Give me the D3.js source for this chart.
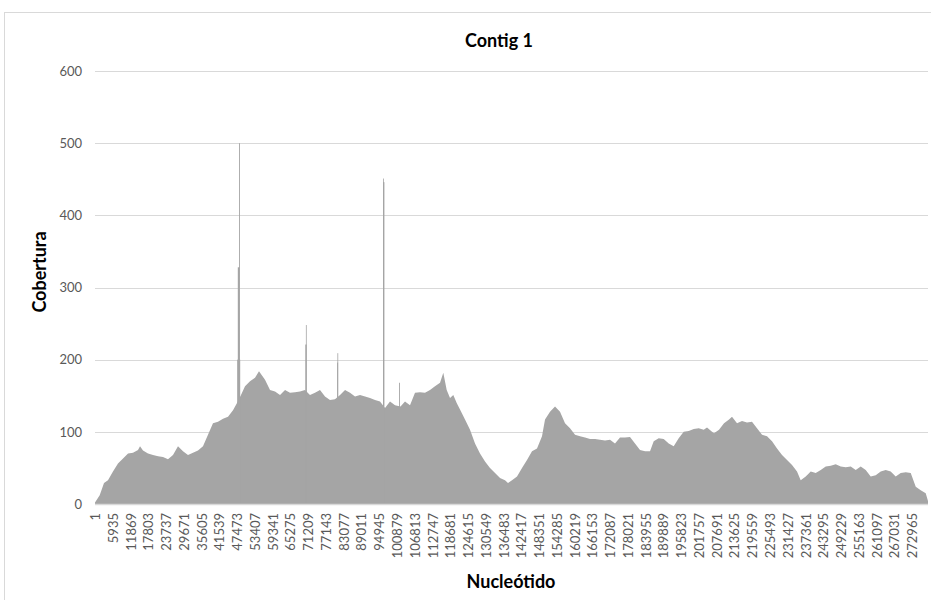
<!DOCTYPE html>
<html>
<head>
<meta charset="utf-8">
<script src="https://cdn.jsdelivr.net/npm/d3@7"></script>
<style>
  html, body { margin: 0; padding: 0; background: #ffffff; }
  svg { display: block; }
  text { font-family: Lato, "Open Sans", sans-serif; }
</style>
</head>
<body>
<svg id="chart" width="931" height="600"></svg>
<script>
// Contig length (nucleotides) covered by the x axis
const contigLength = 278300;

// Coverage profile: nucleotide position and read depth
const positions = [
  1, 1570, 3010, 4340, 6010, 7680, 9360, 11030, 12700, 14370, 15040, 16040, 17710, 19380, 21050,
  22720, 24390, 26060, 27730, 29400, 31070, 32740, 34410, 36080, 37750, 39420, 41090, 42770, 44440,
  46110, 47440, 48780, 50120, 51790, 53460, 54790, 56800, 58470, 60140, 61810, 63480, 65150, 66820,
  68490, 70160, 71830, 73500, 75170, 76840, 78510, 80180, 81860, 83530, 85200, 86870, 88540, 90210,
  91880, 93550, 95220, 96890, 98560, 100230, 102070, 103570, 105240, 106910, 108580, 110250, 111920,
  113590, 115270, 116370, 117500, 118610, 119710, 120840, 121950, 123620, 125290, 126960, 128630,
  130300, 131970, 133640, 135310, 136980, 137980, 139320, 140990, 142660, 144330, 146000, 147670,
  149340, 150350, 152020, 153690, 155360, 157030, 158700, 160370, 162040, 163710, 165380, 167050,
  168720, 170390, 172060, 173730, 175400, 177070, 178740, 180410, 182090, 183760, 185430, 186660,
  188330, 190000, 191670, 193340, 195010, 196690, 198360, 200030, 201700, 203370, 204470, 206140,
  206810, 208480, 210150, 211820, 212820, 214490, 216160, 217830, 219500, 221170, 222850, 224520,
  226190, 227860, 229530, 231200, 232870, 234540, 235770, 237450, 239120, 240790, 242460, 244130,
  245800, 247470, 249140, 250810, 252480, 254150, 255820, 257490, 259160, 260830, 262500, 264170,
  265840, 267510, 269180, 270860, 272530, 274200, 275870, 277540, 278300
];
const coverage = [
  2, 12, 29, 33, 45, 56, 63, 70, 71, 75, 80, 74, 70, 68, 66,
  65, 62, 68, 80, 73, 68, 71, 74, 80, 96, 112, 114, 118, 121,
  130, 140, 151, 163, 170, 175, 184, 172, 158, 156, 151, 158, 154, 155,
  156, 158, 151, 154, 158, 149, 144, 145, 151, 158, 154, 149, 151, 149,
  147, 144, 142, 133, 142, 137, 135, 142, 137, 154, 155, 154, 158,
  163, 168, 182, 158, 147, 151, 140, 131, 117, 103, 84, 70,
  59, 50, 43, 36, 33, 29, 33, 38, 50, 61, 73, 77,
  94, 117, 128, 135, 128, 112, 105, 96, 94, 92, 90, 90,
  89, 88, 89, 84, 92, 92, 93, 84, 75, 73, 73, 87,
  91, 90, 84, 80, 91, 100, 101, 104, 105, 103, 106, 100,
  98, 103, 112, 117, 121, 112, 115, 113, 114, 105, 96, 94,
  87, 77, 68, 61, 54, 45, 33, 38, 45, 43, 47, 52,
  53, 55, 52, 51, 52, 47, 52, 47, 38, 40, 45, 47,
  45, 38, 43, 44, 43, 24, 19, 15, 4
];

// Narrow coverage spikes (repeated regions): start, end and depth of each flat block
const spikeStart = [47510, 47710, 48110, 70260, 70460, 80890, 80990, 96220, 96220, 101570];
const spikeEnd   = [48510, 48310, 48410, 70730, 70700, 81220, 81190, 96690, 96490, 101870];
const spikeCoverage = [200, 328, 500, 221, 248, 196, 209, 446, 451, 168];

// Category labels shown along the x axis
const tickLabels = [
  1, 5935, 11869, 17803, 23737, 29671, 35605, 41539, 47473, 53407, 59341, 65275, 71209, 77143,
  83077, 89011, 94945, 100879, 106813, 112747, 118681, 124615, 130549, 136483, 142417, 148351,
  154285, 160219, 166153, 172087, 178021, 183955, 189889, 195823, 201757, 207691, 213625, 219559,
  225493, 231427, 237361, 243295, 249229, 255163, 261097, 267031, 272965
];
const yTicks = [0, 100, 200, 300, 400, 500, 600];

const chartTitle = "Contig 1";
const xTitle = "Nucleótido";
const yTitle = "Cobertura";

const svg = d3.select("#chart");

// chart frame
svg.append("rect")
  .attr("x", 4.5).attr("y", 12.5)
  .attr("width", 940).attr("height", 600)
  .attr("fill", "#ffffff")
  .attr("stroke", "#d9d9d9")
  .attr("stroke-width", 1);

const plot = { left: 95, right: 928, top: 71, bottom: 504 };

const x = d3.scaleLinear().domain([1, contigLength]).range([plot.left, plot.right]);
const y = d3.scaleLinear().domain([0, 600]).range([plot.bottom, plot.top]);

// horizontal gridlines
svg.append("g")
  .selectAll("line")
  .data(yTicks.filter(v => v > 0))
  .join("line")
  .attr("x1", plot.left).attr("x2", plot.right)
  .attr("y1", d => Math.round(y(d)) + 0.5).attr("y2", d => Math.round(y(d)) + 0.5)
  .attr("stroke", "#d9d9d9").attr("stroke-width", 1);

const fill = "#a5a5a5";

// coverage area
const series = positions.map((p, i) => ({ pos: p, cov: coverage[i] }));
const area = d3.area()
  .x(d => x(d.pos))
  .y0(y(0))
  .y1(d => y(d.cov));

svg.append("path")
  .datum(series)
  .attr("d", area)
  .attr("fill", fill);

// spikes as narrow flat-topped blocks
svg.append("g")
  .selectAll("rect")
  .data(spikeStart.map((s, i) => ({ s, e: spikeEnd[i], cov: spikeCoverage[i] })))
  .join("rect")
  .attr("x", d => x(d.s))
  .attr("width", d => Math.max(0.8, x(d.e) - x(d.s)))
  .attr("y", d => y(d.cov))
  .attr("height", d => y(0) - y(d.cov))
  .attr("fill", fill);

// category axis line
svg.append("line")
  .attr("x1", plot.left).attr("x2", plot.right)
  .attr("y1", plot.bottom + 0.5).attr("y2", plot.bottom + 0.5)
  .attr("stroke", "#d9d9d9").attr("stroke-width", 1.5);

// y axis labels
const yAxis = d3.axisLeft(y).tickValues(yTicks).tickSize(0).tickPadding(0);
const gy = svg.append("g").attr("transform", `translate(${plot.left - 13},0)`).call(yAxis);
gy.select(".domain").remove();
gy.selectAll("text")
  .attr("fill", "#595959")
  .style("font-size", "13px")
  .style("font-family", "Lato, sans-serif");

// x axis labels, rotated
const xAxis = d3.axisBottom(x).tickValues(tickLabels).tickSize(0).tickFormat(d => String(d));
const gx = svg.append("g").attr("transform", `translate(0,${plot.bottom})`).call(xAxis);
gx.select(".domain").remove();
gx.selectAll("text")
  .attr("fill", "#595959")
  .style("font-size", "13px")
  .style("font-family", "Lato, sans-serif")
  .attr("text-anchor", "end")
  .attr("y", 0)
  .attr("dy", "0.35em")
  .attr("transform", "translate(0,9) rotate(-90)");

// titles
svg.append("text")
  .attr("x", 499).attr("y", 47)
  .attr("text-anchor", "middle")
  .attr("fill", "#000000")
  .style("font-size", "18px").style("font-weight", "bold")
  .text(chartTitle);

svg.append("text")
  .attr("x", 511).attr("y", 588)
  .attr("text-anchor", "middle")
  .attr("fill", "#000000")
  .style("font-size", "18px").style("font-weight", "bold")
  .text(xTitle);

svg.append("text")
  .attr("transform", "translate(46,272) rotate(-90)")
  .attr("text-anchor", "middle")
  .attr("fill", "#000000")
  .style("font-size", "18px").style("font-weight", "bold")
  .text(yTitle);
</script>
</body>
</html>
